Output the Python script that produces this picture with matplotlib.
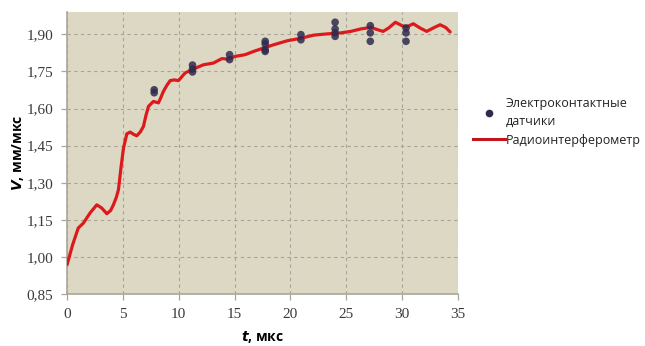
import matplotlib

matplotlib.use("Agg")
import matplotlib.pyplot as plt
from matplotlib.lines import Line2D

# Radio-interferometer velocity trace, t in us, V in mm/us
t_radio = [0.0, 0.5, 1.0, 1.46, 2.06, 2.66, 3.1, 3.56, 3.9, 4.15, 4.4, 4.6, 4.84, 5.05,
           5.35, 5.65, 5.95, 6.24, 6.55, 6.84, 7.05, 7.29, 7.73, 8.18, 8.4, 8.63, 8.95,
           9.23, 9.6, 9.97, 10.57, 11.17, 12.2, 13.1, 13.86, 14.45, 15.05, 15.95, 16.7,
           17.6, 18.5, 19.7, 20.9, 22.1, 23.3, 24.5, 25.4, 26.3, 27.2, 27.8, 28.3, 28.8,
           29.4, 30.0, 30.4, 31.0, 31.6, 32.2, 32.8, 33.4, 33.9, 34.3]
v_radio = [0.969, 1.05, 1.117, 1.137, 1.178, 1.211, 1.198, 1.175, 1.188, 1.211, 1.240,
           1.272, 1.366, 1.44, 1.498, 1.505, 1.496, 1.490, 1.505, 1.528, 1.570, 1.609,
           1.629, 1.623, 1.645, 1.670, 1.695, 1.713, 1.716, 1.713, 1.744, 1.757, 1.777,
           1.784, 1.802, 1.800, 1.811, 1.818, 1.831, 1.845, 1.858, 1.874, 1.884, 1.897,
           1.902, 1.906, 1.912, 1.922, 1.928, 1.919, 1.912, 1.926, 1.949, 1.935, 1.930,
           1.943, 1.926, 1.912, 1.926, 1.939, 1.928, 1.910]

# Electro-contact gauge readings
t_gauge = [7.8, 7.8, 11.23, 11.23, 11.23, 14.55, 14.55, 17.74, 17.74, 17.74, 17.74,
           20.94, 20.94, 24.0, 24.0, 24.0, 24.0, 27.15, 27.15, 27.15, 30.35, 30.35, 30.35]
v_gauge = [1.676, 1.664, 1.776, 1.760, 1.748, 1.818, 1.798, 1.872, 1.861, 1.838, 1.831,
           1.899, 1.878, 1.949, 1.922, 1.906, 1.892, 1.935, 1.906, 1.872, 1.926, 1.906, 1.872]

x_ticks = [0, 5, 10, 15, 20, 25, 30, 35]
y_ticks = [0.85, 1.00, 1.15, 1.30, 1.45, 1.60, 1.75, 1.90]
y_labels = ["0,85", "1,00", "1,15", "1,30", "1,45", "1,60", "1,75", "1,90"]

PANEL = "#ddd8c4"
GRID = "#a6a398"
AXIS = "#a9a69c"
RED = "#dc1a1c"
DOT = "#2f2b4f"

fig = plt.figure(figsize=(6.45, 3.46), dpi=100)
ax = fig.add_axes([0.104, 0.150, 0.606, 0.815])
ax.set_facecolor(PANEL)

ax.plot(t_radio, v_radio, color=RED, lw=2.3, solid_joinstyle="round",
        solid_capstyle="round", zorder=3)
ax.scatter(t_gauge, v_gauge, s=30, color=DOT, alpha=0.85, edgecolors="none", zorder=4)

ax.set_xlim(0, 35)
ax.set_ylim(0.85, 1.99)
ax.set_xticks(x_ticks)
ax.set_yticks(y_ticks)
ax.set_yticklabels(y_labels)
for lab in ax.get_xticklabels() + ax.get_yticklabels():
    lab.set_family("Liberation Serif")
    lab.set_fontsize(11)
    lab.set_color("#3a3a3a")
ax.tick_params(axis="both", direction="out", length=4, width=0.9, color=AXIS, pad=6)

ax.grid(True, color=GRID, lw=0.8, ls=(0, (3, 3)))
ax.set_axisbelow(True)
for side in ("top", "right"):
    ax.spines[side].set_visible(False)
for side in ("left", "bottom"):
    ax.spines[side].set_color(AXIS)
    ax.spines[side].set_linewidth(1.2)

ax.set_xlabel(r"$\bfit{t}$, мкс", fontsize=10, fontweight="bold", family="Open Sans", labelpad=6)
ax.set_ylabel(r"$\bfit{V}$, мм/мкс", fontsize=10, fontweight="bold", family="Open Sans", labelpad=0)

handles = [
    Line2D([], [], ls="none", marker="o", markersize=4.5, color=DOT),
    Line2D([], [], color="#c0161c", lw=2.2),
]
fig.legend(handles, ["Электроконтактные\nдатчики", "Радиоинтерферометр"],
           loc="upper left", bbox_to_anchor=(0.733, 0.72), frameon=False,
           prop={"family": "Open Sans", "size": 9}, handlelength=2.55,
           handletextpad=0.1, labelspacing=0.45, borderaxespad=0, borderpad=0)
for txt in fig.legends[0].get_texts():
    txt.set_linespacing(1.5)
    txt.set_color("#222222")

fig.savefig("out.png", facecolor="white")
